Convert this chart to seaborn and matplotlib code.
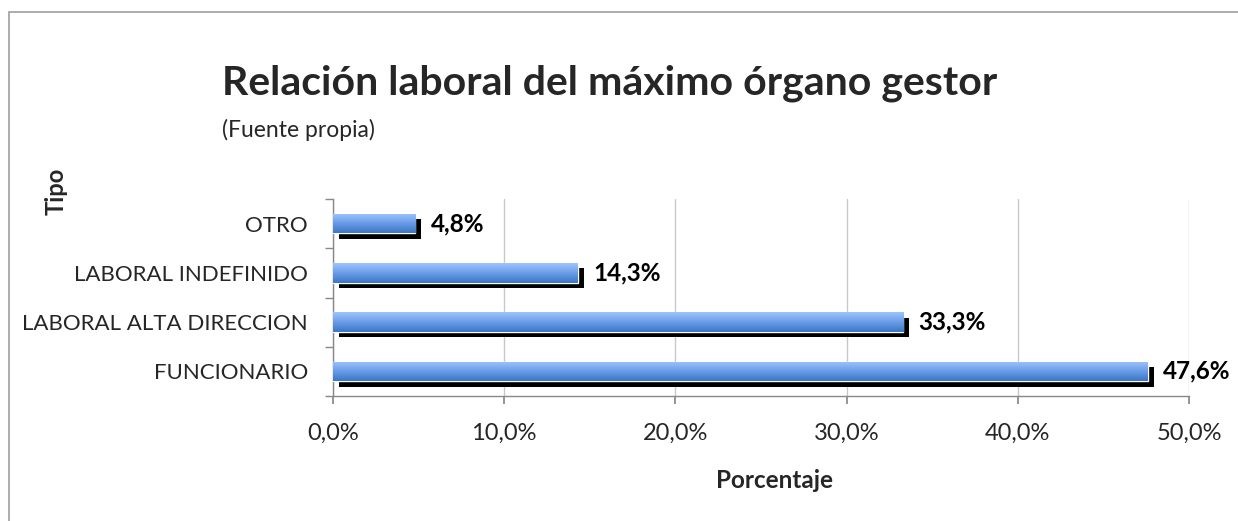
import numpy as np
import pandas as pd
import seaborn as sns
import matplotlib.pyplot as plt
import matplotlib.patheffects as pe
from matplotlib.colors import LinearSegmentedColormap
from matplotlib.patches import Rectangle

# Data
categories = ["OTRO", "LABORAL INDEFINIDO", "LABORAL ALTA DIRECCION", "FUNCIONARIO"]
percentages = [4.8, 14.3, 33.3, 47.6]
x_ticks = [0, 10, 20, 30, 40, 50]
x_tick_labels = ["0,0%", "10,0%", "20,0%", "30,0%", "40,0%", "50,0%"]

df = pd.DataFrame({"Tipo": categories, "Porcentaje": percentages})

sns.set_theme(style="white")
plt.rcParams["font.family"] = ["Lato", "DejaVu Sans"]

fig = plt.figure(figsize=(12.38, 5.21), dpi=100)
ax = fig.add_axes([333 / 1238, 1 - 396 / 521, (1189 - 333) / 1238, (396 - 199) / 521])

sns.barplot(data=df, x="Porcentaje", y="Tipo", orient="h", width=0.4,
            color="#5b8fdc", ax=ax, zorder=3)

# shadow + gradient fill on each bar (light on top, darker below)
grad = LinearSegmentedColormap.from_list("bar", ["#3c77c9", "#6a9ce6", "#9ec4ff"])
for p in ax.patches:
    p.set_path_effects([pe.SimplePatchShadow(offset=(4.3, -3.8), shadow_rgbFace="black", alpha=1.0),
                        pe.Normal()])
    x0, y0 = p.get_x(), p.get_y()
    w, h = p.get_width(), p.get_height()
    im = ax.imshow(np.linspace(1, 0, 64).reshape(-1, 1), cmap=grad, aspect="auto",
                   extent=[x0, x0 + w, y0 + h, y0], origin="upper", zorder=4)
    im.set_clip_path(p)

ax.set_xlim(0, 50)
ax.set_ylim(3.5, -0.5)

# value labels
for i, v in enumerate(percentages):
    ax.text(v + 0.9, i, f"{v:.1f}%".replace(".", ","), va="center", ha="left",
            fontsize=17.5, fontweight="bold", color="black", zorder=5)

ax.set_xticks(x_ticks)
ax.set_xticklabels(x_tick_labels, fontsize=17)
ax.set_yticks(range(len(categories)))
ax.set_yticklabels(categories, fontsize=16)
ax.set_yticks([-0.5, 0.5, 1.5, 2.5, 3.5], minor=True)
ax.tick_params(axis="y", which="major", length=0, pad=18)
ax.tick_params(axis="y", which="minor", length=6, color="#888888", direction="out", left=True)
ax.tick_params(axis="x", length=6, color="#888888", direction="out", bottom=True, pad=13)
ax.set_xlabel("")
ax.set_ylabel("")

ax.xaxis.grid(True, color="#c8c8c8", linewidth=1)
ax.set_axisbelow(True)
for side in ["top", "right"]:
    ax.spines[side].set_visible(False)
for side in ["left", "bottom"]:
    ax.spines[side].set_color("#888888")
    ax.spines[side].set_linewidth(1)

# titles
fig.text(222 / 1238, 1 - 95 / 521, "Relación laboral del máximo órgano gestor",
         fontsize=29.5, fontweight="bold", ha="left", va="baseline")
fig.text(222 / 1238, 1 - 130 / 521, "(Fuente propia)", fontsize=16.5, ha="left", va="center")
fig.text(56 / 1238, 1 - 191 / 521, "Tipo", fontsize=17, fontweight="bold",
         rotation=90, ha="center", va="center")
fig.text(775 / 1238, 1 - 480 / 521, "Porcentaje", fontsize=17.5, fontweight="bold",
         ha="center", va="center")

# chart border
fig.patches.append(Rectangle((8.5 / 1238, -0.05), 1.1, 1 - 11.5 / 521 + 0.05,
                             transform=fig.transFigure, fill=False,
                             edgecolor="#a6a6a6", linewidth=1.3))

fig.savefig("out.png", dpi=100)
